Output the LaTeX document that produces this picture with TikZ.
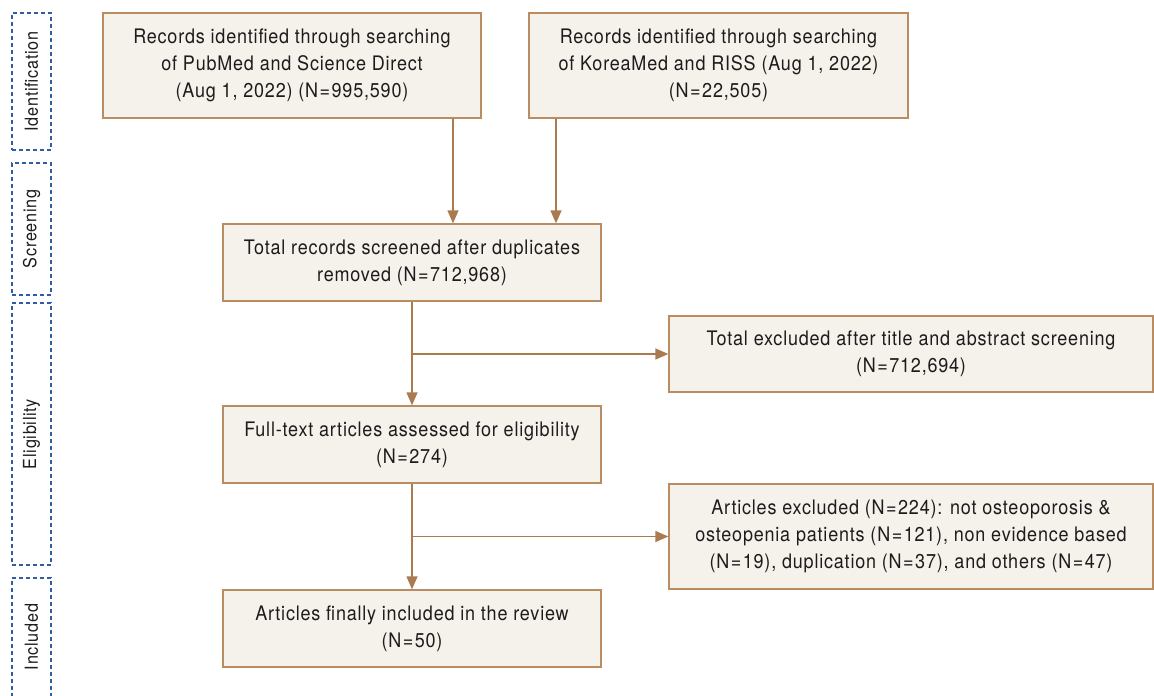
\documentclass[tikz,border=0pt]{standalone}
\usepackage{fontspec}
\setmainfont{TeX Gyre Heros}[FakeStretch=0.9, LetterSpace=4]
\usepackage{tikz}
\usetikzlibrary{arrows.meta,positioning,calc}
\definecolor{boxline}{HTML}{B98C62}
\definecolor{boxfill}{HTML}{F5F2EC}
\definecolor{arrowc}{HTML}{A97B4E}
\definecolor{stageblue}{HTML}{2F5DA6}
\definecolor{inktext}{HTML}{1E1B1C}
\newcommand{\Neq}{N\kern1.5pt=\kern1.5pt}
\tikzset{
  flowbox/.style={draw=boxline, fill=boxfill, line width=1.3pt, align=center, inner sep=2pt,
    text=inktext, font=\fontsize{20}{27}\selectfont},
  stagebox/.style={draw=stageblue, dashed, dash pattern=on 4pt off 3pt, line width=1.3pt,
    minimum width=39pt},
  stagetext/.style={rotate=90, text=inktext, font=\fontsize{18}{18}\selectfont},
  arr/.style={-{Triangle[length=13pt,width=11pt]}, draw=arrowc, line width=1.3pt}
}
\begin{document}
\begin{tikzpicture}[x=1pt,y=-1pt]
\useasboundingbox (0,0) rectangle (1154,696);
% stages
\node[stagebox, minimum height=137pt] (ident) at (31.5,81.5) {};
\node[stagetext] at (ident.center) {Identification};
\node[stagebox, minimum height=132pt] (screen) at (31.5,229) {};
\node[stagetext] at (screen.center) {Screening};
\node[stagebox, minimum height=262pt] (elig) at (31.5,434) {};
\node[stagetext] at (elig.center) {Eligibility};
\node[stagebox, minimum height=122pt] (incl) at (31.5,639) {};
\node[stagetext] at (31.5,637) {Included};
% boxes
\node[flowbox, minimum width=378pt, minimum height=105pt] (pubmed) at (292,65.5)
  {Records identified through searching\\of PubMed and Science Direct\\(Aug 1, 2022) (\Neq995,590)};
\node[flowbox, minimum width=379pt, minimum height=105pt] (korea) at (718.5,65.5)
  {Records identified through searching\\of KoreaMed and RISS (Aug 1, 2022)\\(\Neq22,505)};
\node[flowbox, minimum width=378pt, minimum height=77pt] (screened) at (412,262.5)
  {Total records screened after duplicates\\removed (\Neq712,968)};
\node[flowbox, minimum width=484pt, minimum height=76pt] (excltitle) at (911,354)
  {Total excluded after title and abstract screening\\(\Neq712,694)};
\node[flowbox, minimum width=378pt, minimum height=77pt] (fulltext) at (412,444.5)
  {Full-text articles assessed for eligibility\\(\Neq274)};
\node[flowbox, minimum width=484pt, minimum height=105pt] (exclart) at (911,536.5)
  {Articles excluded (\Neq224): not osteoporosis \&\\osteopenia patients (\Neq121), non evidence based\\(\Neq19), duplication (\Neq37), and others (\Neq47)};
\node[flowbox, minimum width=378pt, minimum height=77pt] (included) at (412,628.5)
  {Articles finally included in the review\\(\Neq50)};
% connectors
\coordinate (branchA) at (412,354);
\coordinate (branchB) at (412,536.5);
\draw[arr] (pubmed.south -| 453,0) -- (screened.north -| 453,0);
\draw[arr] (korea.south -| 556,0) -- (screened.north -| 556,0);
\draw[arr] (screened) -- (fulltext);
\draw[arr] (branchA) -- (excltitle);
\draw[arr] (fulltext) -- (included);
\draw[arr] (branchB) -- (exclart);
\end{tikzpicture}
\end{document}
